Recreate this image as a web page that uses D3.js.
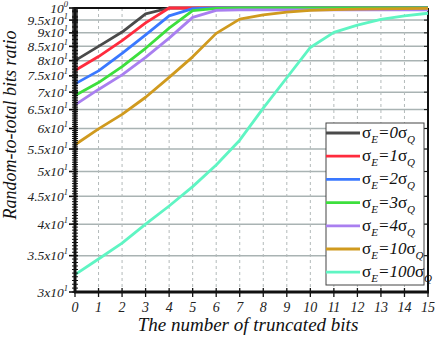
<!DOCTYPE html>
<html lang="en">
<head>
<meta charset="UTF-8">
<title>Random-to-total bits ratio</title>
<script src="https://d3js.org/d3.v7.min.js"></script>
<style>
  body { margin: 0; background: #fff; }
  svg text { font-family: "Liberation Serif", "DejaVu Serif", serif; }
</style>
</head>
<body>
<svg id="chart" width="436" height="337"></svg>
<script>
// x categories: number of truncated bits
var bits = [0, 1, 2, 3, 4, 5, 6, 7, 8, 9, 10, 11, 12, 13, 14, 15];

// ratio per sigma_E setting
var sigma0   = [0.800, 0.850, 0.903, 0.975, 1.000, 1.000, 1.000, 1.000, 1.000, 1.000, 1.000, 1.000, 1.000, 1.000, 1.000, 1.000];
var sigma1   = [0.767, 0.814, 0.871, 0.939, 1.000, 1.000, 1.000, 1.000, 1.000, 1.000, 1.000, 1.000, 1.000, 1.000, 1.000, 1.000];
var sigma2   = [0.725, 0.766, 0.825, 0.892, 0.967, 0.997, 1.000, 1.000, 1.000, 1.000, 1.000, 1.000, 1.000, 1.000, 1.000, 1.000];
var sigma3   = [0.690, 0.729, 0.780, 0.843, 0.918, 0.989, 0.998, 1.000, 1.000, 1.000, 1.000, 1.000, 1.000, 1.000, 1.000, 1.000];
var sigma4   = [0.663, 0.708, 0.753, 0.811, 0.880, 0.961, 0.990, 0.992, 0.992, 0.992, 0.992, 0.992, 0.992, 0.992, 0.992, 0.992];
var sigma10  = [0.560, 0.599, 0.637, 0.685, 0.745, 0.813, 0.898, 0.954, 0.971, 0.983, 0.990, 0.993, 0.995, 0.996, 0.997, 0.998];
var sigma100 = [0.323, 0.345, 0.369, 0.400, 0.432, 0.469, 0.514, 0.571, 0.654, 0.744, 0.846, 0.902, 0.930, 0.953, 0.967, 0.978];

var seriesNames = ["0", "1", "2", "3", "4", "10", "100"];
var seriesValues = [sigma0, sigma1, sigma2, sigma3, sigma4, sigma10, sigma100];
var seriesColors = ["#4a4a4a", "#ff2b3d", "#3a78ff", "#3ddf3d", "#a97ff0", "#d09a1e", "#5ff5c3"];

// y tick labels (mantissa) and values
var yTickVals = [0.30, 0.35, 0.40, 0.45, 0.50, 0.55, 0.60, 0.65, 0.70, 0.75, 0.80, 0.85, 0.90, 0.95, 1.00];
var yTickMant = ["3", "3.5", "4", "4.5", "5", "5.5", "6", "6.5", "7", "7.5", "8", "8.5", "9", "9.5", "1"];

var svg = d3.select("#chart");
var pLeft = 75, pRight = 428, pTop = 8, pBottom = 292;

var x = d3.scaleLinear().domain([0, 15]).range([pLeft, pRight]);
var y = d3.scaleLog().domain([0.3, 1]).range([pBottom, pTop]);

// horizontal grid
svg.append("g")
    .selectAll("line")
    .data(yTickVals.slice(1, -1))
    .enter()
    .append("line")
    .attr("x1", pLeft).attr("x2", pRight)
    .attr("y1", d => y(d)).attr("y2", d => y(d))
    .attr("stroke", "#a9b3b3")
    .attr("stroke-width", 1.5);

// vertical dashed grid
svg.append("g")
    .selectAll("line")
    .data(bits.slice(1, -1))
    .enter()
    .append("line")
    .attr("x1", d => x(d)).attr("x2", d => x(d))
    .attr("y1", pTop).attr("y2", pBottom)
    .attr("stroke", "#b3baba")
    .attr("stroke-width", 1)
    .attr("stroke-dasharray", "3,3");

// frame (top + right)
svg.append("line").attr("x1", pLeft).attr("x2", pRight).attr("y1", pTop).attr("y2", pTop)
    .attr("stroke", "#111").attr("stroke-width", 2);
svg.append("line").attr("x1", pRight).attr("x2", pRight).attr("y1", pTop).attr("y2", pBottom)
    .attr("stroke", "#111").attr("stroke-width", 2);

// right side small inward ticks
svg.append("g")
    .selectAll("line")
    .data(yTickVals)
    .enter()
    .append("line")
    .attr("x1", pRight - 4).attr("x2", pRight)
    .attr("y1", d => y(d)).attr("y2", d => y(d))
    .attr("stroke", "#111");

// series lines
var line = d3.line()
    .x((d, i) => x(bits[i]))
    .y(d => y(d));

svg.append("g")
    .selectAll("path")
    .data(seriesValues)
    .enter()
    .append("path")
    .attr("fill", "none")
    .attr("stroke", (d, i) => seriesColors[i])
    .attr("stroke-width", 2.8)
    .attr("stroke-linejoin", "round")
    .attr("d", line);

// y axis: minor ticks
var minor = d3.range(0.300, 1.0001, 0.005);
svg.append("g")
    .selectAll("line")
    .data(minor)
    .enter()
    .append("line")
    .attr("x1", pLeft - 3).attr("x2", pLeft + 3)
    .attr("y1", d => y(d)).attr("y2", d => y(d))
    .attr("stroke", "#111")
    .attr("stroke-width", 1);

svg.append("g")
    .selectAll("line")
    .data(yTickVals)
    .enter()
    .append("line")
    .attr("x1", pLeft - 6).attr("x2", pLeft + 3)
    .attr("y1", d => y(d)).attr("y2", d => y(d))
    .attr("stroke", "#111")
    .attr("stroke-width", 1.6);

svg.append("line").attr("x1", pLeft).attr("x2", pLeft).attr("y1", pTop - 1).attr("y2", pBottom + 1)
    .attr("stroke", "#111").attr("stroke-width", 3);

// y tick labels
var ylab = svg.append("g")
    .selectAll("text")
    .data(yTickVals)
    .enter()
    .append("text")
    .attr("x", 68)
    .attr("y", d => y(d) + 4.5)
    .attr("text-anchor", "end")
    .style("font-style", "italic")
    .style("font-size", "13.5px")
    .attr("fill", "#222");
ylab.append("tspan").text((d, i) => i === yTickVals.length - 1 ? "10" : yTickMant[i] + "x10");
ylab.append("tspan")
    .attr("dy", -6)
    .style("font-size", "8.5px")
    .text((d, i) => i === yTickVals.length - 1 ? "0" : "1");

// x axis
svg.append("line").attr("x1", pLeft - 1).attr("x2", pRight + 1).attr("y1", pBottom).attr("y2", pBottom)
    .attr("stroke", "#111").attr("stroke-width", 3);
svg.append("g")
    .selectAll("line")
    .data(bits)
    .enter()
    .append("line")
    .attr("x1", d => x(d)).attr("x2", d => x(d))
    .attr("y1", pBottom - 4).attr("y2", pBottom + 5)
    .attr("stroke", "#111")
    .attr("stroke-width", 1.3);
svg.append("g")
    .selectAll("text")
    .data(bits)
    .enter()
    .append("text")
    .attr("x", d => x(d))
    .attr("y", 312)
    .attr("text-anchor", "middle")
    .style("font-style", "italic")
    .style("font-size", "14px")
    .attr("fill", "#222")
    .text(d => d);

// axis titles
svg.append("text")
    .attr("x", 248)
    .attr("y", 331)
    .attr("text-anchor", "middle")
    .style("font-style", "italic")
    .style("font-size", "19px")
    .attr("fill", "#111")
    .text("The number of truncated bits");

svg.append("text")
    .attr("transform", "translate(16,125) rotate(-90)")
    .attr("text-anchor", "middle")
    .style("font-style", "italic")
    .style("font-size", "18px")
    .attr("fill", "#111")
    .text("Random-to-total bits ratio");

// legend
var lg = svg.append("g");
lg.append("rect")
    .attr("x", 326).attr("y", 123)
    .attr("width", 98).attr("height", 162)
    .attr("fill", "#fff")
    .attr("stroke", "#444")
    .attr("stroke-width", 1);

var rows = lg.selectAll("g.row")
    .data(seriesNames)
    .enter()
    .append("g")
    .attr("class", "row")
    .attr("transform", (d, i) => "translate(0," + (133 + i * 23.2) + ")");

rows.append("line")
    .attr("x1", 326).attr("x2", 360)
    .attr("y1", 0).attr("y2", 0)
    .attr("stroke", (d, i) => seriesColors[i])
    .attr("stroke-width", 2.8);

var lt = rows.append("text")
    .attr("x", 362)
    .attr("y", 5)
    .style("font-size", "17px")
    .attr("fill", "#111");
lt.append("tspan").text("σ");
lt.append("tspan").attr("dy", 5).style("font-size", "11px").style("font-style", "italic").text("E");
lt.append("tspan").attr("dy", -5).style("font-style", "italic").text(d => "=" + d);
lt.append("tspan").text("σ");
lt.append("tspan").attr("dy", 5).style("font-size", "11px").style("font-style", "italic").text("Q");
</script>
</body>
</html>
